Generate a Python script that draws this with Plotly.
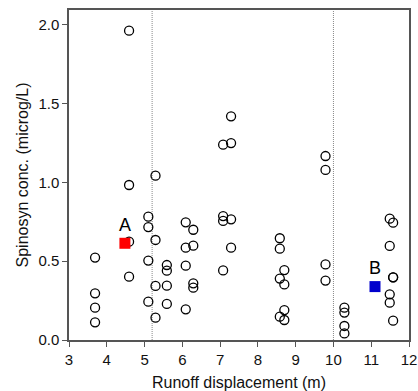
import plotly.graph_objects as go

# Open-circle observations (runoff displacement m, spinosyn conc. microg/L)
x_obs = [3.69, 3.69, 3.69, 3.69,
         4.59, 4.59, 4.59, 4.59,
         5.10, 5.10, 5.10, 5.10,
         5.29, 5.29, 5.29, 5.29,
         5.59, 5.59, 5.59, 5.59,
         6.09, 6.09, 6.09, 6.09,
         6.29, 6.29, 6.29, 6.29,
         7.08, 7.08, 7.08, 7.08,
         7.29, 7.29, 7.29, 7.29,
         8.58, 8.58, 8.58, 8.58,
         8.70, 8.70, 8.70, 8.70,
         9.79, 9.79, 9.79, 9.79,
         10.29, 10.29, 10.29, 10.29,
         11.49, 11.49, 11.49, 11.49,
         11.58, 11.58, 11.58, 11.58]
y_obs = [0.523, 0.296, 0.205, 0.112,
         1.964, 0.984, 0.624, 0.402,
         0.783, 0.717, 0.504, 0.243,
         1.043, 0.635, 0.343, 0.142,
         0.476, 0.44, 0.345, 0.229,
         0.747, 0.586, 0.472, 0.195,
         0.70, 0.599, 0.36, 0.332,
         1.24, 0.787, 0.756, 0.442,
         1.42, 1.25, 0.766, 0.586,
         0.646, 0.58, 0.39, 0.148,
         0.444, 0.353, 0.19, 0.127,
         1.168, 1.08, 0.48, 0.377,
         0.205, 0.174, 0.089, 0.042,
         0.77, 0.597, 0.29, 0.237,
         0.745, 0.398, 0.398, 0.123]

# Highlighted samples
hl_labels = ["A", "B"]
hl_x = [4.48, 11.10]
hl_y = [0.614, 0.339]
hl_colors = ["#ff0000", "#0000cc"]

# Boundary lines (m)
boundaries = [5.2, 10.0]

x_ticks = [3, 4, 5, 6, 7, 8, 9, 10, 11, 12]
y_ticks = [0.0, 0.5, 1.0, 1.5, 2.0]

FONT = "Liberation Sans, Arial"

fig = go.Figure()
fig.add_trace(go.Scatter(
    x=x_obs, y=y_obs, mode="markers",
    marker=dict(symbol="circle-open", size=9, color="black", line=dict(width=1.3)),
    showlegend=False, cliponaxis=False))
fig.add_trace(go.Scatter(
    x=hl_x, y=hl_y, mode="markers+text",
    text=hl_labels, textposition="top center",
    textfont=dict(family=FONT, size=18, color="black"),
    marker=dict(symbol="square", size=11, color=hl_colors, line=dict(width=0)),
    showlegend=False))

for b in boundaries:
    fig.add_shape(type="line", x0=b, x1=b, y0=0, y1=1, xref="x", yref="paper",
                  line=dict(color="#888888", width=1, dash="1px,1px"), layer="below")

axis_common = dict(showline=True, linecolor="#555555", linewidth=1.5, mirror=True,
                   ticks="outside", ticklen=5, tickcolor="#555555", showgrid=False,
                   zeroline=False, automargin=False,
                   tickfont=dict(family=FONT, size=15, color="#111111"),
                   title_font=dict(family=FONT, size=16, color="#111111"))

fig.update_xaxes(range=[3, 12], tickvals=x_ticks,
                 title_text="Runoff displacement (m)", title_standoff=12, **axis_common)
fig.update_yaxes(range=[0, 2.095], tickvals=y_ticks, tickformat=".1f",
                 title_text="Spinosyn conc. (microg/L)", title_standoff=6, **axis_common)

fig.update_layout(width=418, height=391, margin=dict(l=69, r=9, t=10, b=51),
                  plot_bgcolor="white", paper_bgcolor="white")

fig.write_html("out.html")
